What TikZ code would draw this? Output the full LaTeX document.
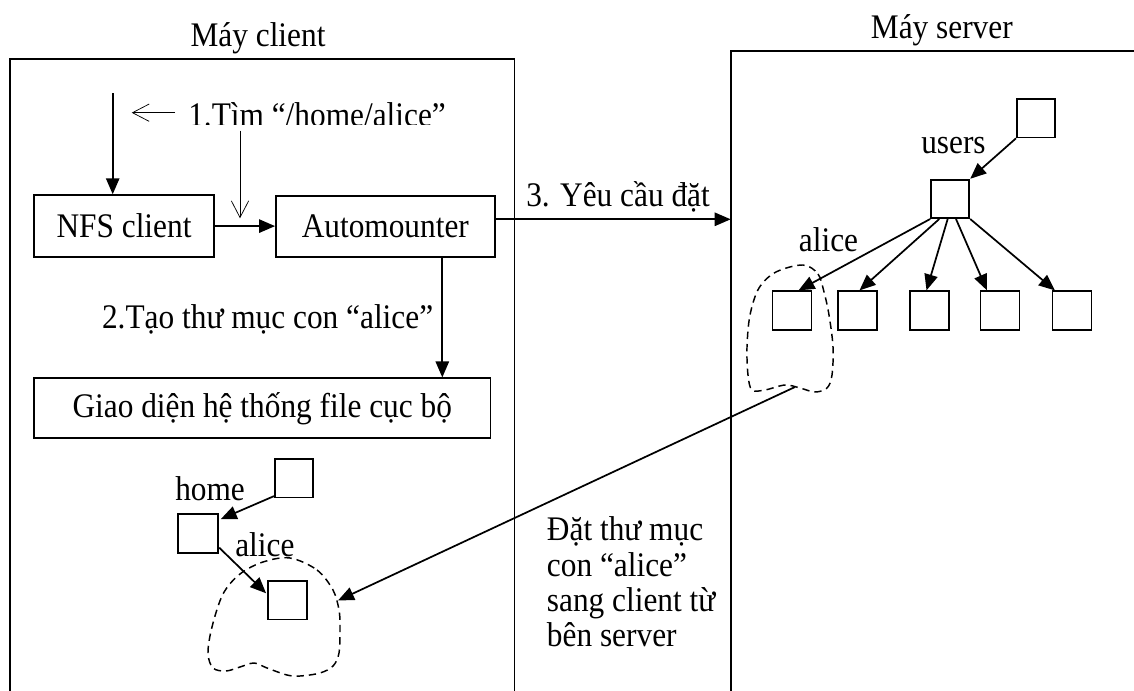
\documentclass[tikz,border=0pt]{standalone}
\usepackage{graphicx}
\usepackage{fontspec}
\setmainfont{Liberation Serif}
\usetikzlibrary{arrows.meta,calc}
% the lettering is set slightly taller than the font's natural proportions
\newcommand\stretchtxt[1]{\scalebox{1}[1.1]{#1}}
\begin{document}
\begin{tikzpicture}[x=0.75pt,y=-0.75pt,
  every node/.style={font=\fontsize{23.5}{26.5}\selectfont},
  box/.style={draw,line width=1.3pt,inner sep=0pt},
  dirbox/.style={draw,line width=1.3pt,inner sep=0pt,minimum width=39*0.75pt,minimum height=38.5*0.75pt},
  lbl/.style={anchor=base west,inner sep=0pt},
  frame/.style={line width=1.3pt},
  arr/.style={line width=1.3pt,-{Triangle[length=12pt,width=10pt]}},
  thinarr/.style={line width=0.55pt,-{Straight Barb[length=12.5pt,width=13pt]}},
  blob/.style={line width=1.1pt,dash pattern=on 5.5pt off 3.75pt}
]
\useasboundingbox (0,0) rectangle (1134,691);

% machine frames (open at the bottom / right)
\draw[frame] (10,700) -- (10,59.3) -- (514.5,59.3) -- (514.5,700);
\draw[frame] (730.7,700) -- (730.7,51) -- (1145,51);
\coordinate (srvL) at (730.7,51);

\node[anchor=base,inner sep=0pt] (tclient) at (258,46.7) {\stretchtxt{Máy client}};
\node[anchor=base,inner sep=0pt] (tserver) at (941.8,38.3) {\stretchtxt{Máy server}};

% client side components
\node[box,minimum width=180*0.75pt,minimum height=61.7*0.75pt] (nfs) at (124,226) {\stretchtxt{NFS client}};
\node[box,minimum width=218.7*0.75pt,minimum height=61*0.75pt] (auto) at (385.3,226.2) {\stretchtxt{Automounter}};
\node[box,minimum width=456.4*0.75pt,minimum height=60*0.75pt] (giao) at (262.2,408.3) {\stretchtxt{Giao diện hệ thống file cục bộ}};

\coordinate (in) at (112.7,93.3);
\draw[arr] (in) -- (in |- nfs.north);
\draw[arr] (nfs) -- (auto);
\coordinate (dn) at (442.3,0);
\draw[arr] (dn |- auto.south) -- (dn |- giao.north);
\coordinate (rq) at (0,219.3);
\draw[arr] (rq -| auto.east) -- (rq -| srvL);

% step 1 hint
\coordinate (t1a) at (175,112.7);
\coordinate (t1b) at (131.7,112.7);
\draw[thinarr] (t1a) -- (t1b);
\coordinate (t2a) at (240,130.7);
\coordinate (t2b) at (240,218.3);
\draw[thinarr] (t2a) -- (t2b);
\begin{scope}
  \clip (180,92) rectangle (470,124.5);
  \node[lbl] (step1) at (188,127) {\stretchtxt{1.Tìm “/home/alice”}};
\end{scope}

\node[lbl] (step2) at (101.8,328.3) {\stretchtxt{2.Tạo thư mục con “alice”}};
\node[lbl] (step3) at (526,206.7) {\stretchtxt{3. Yêu cầu đặt}};

% server directory tree
\node[dirbox,minimum width=38.3*0.75pt] (sroot) at (1036,118.2) {};
\node[dirbox,minimum width=38.3*0.75pt] (users) at (950.2,198.9) {};
\node[dirbox] (s1) at (792,310.5) {};
\node[dirbox] (s2) at (857.7,310.5) {};
\node[dirbox] (s3) at (929.7,310.5) {};
\node[dirbox] (s4) at (1000,310.5) {};
\node[dirbox] (s5) at (1072,310.5) {};
\draw[arr] (sroot.south west) -- (users.north east);
\draw[arr] (users.south west) -- ([xshift=4.9pt]s1.north);
\draw[arr] ([xshift=-8.2pt]users.south) -- ([xshift=1.35pt]s2.north);
\draw[arr] ([xshift=-1.9pt]users.south) -- ([xshift=-2.4pt]s3.north);
\draw[arr] ([xshift=4.35pt]users.south) -- ([xshift=-9.75pt]s4.north);
\draw[arr] (users.south east) -- ([xshift=2.4pt]s5.north west);
\node[lbl] (lusers) at (921,153.3) {\stretchtxt{users}};
\node[lbl] (lsalice) at (798.7,251.7) {\stretchtxt{alice}};
\draw[blob] plot[smooth cycle,tension=0.55] coordinates
  {(803,265) (818,274) (824,292) (829,315) (833,347) (832,375) (827,388)
   (815,392) (800,388) (785,385) (765,390) (752,390) (748,375) (747,347)
   (750,315) (759,288) (776,272)};

% client directory tree
\node[dirbox,minimum width=38.3*0.75pt] (croot) at (294.2,478.2) {};
\node[dirbox,minimum width=40*0.75pt] (home) at (198.3,533.5) {};
\node[dirbox] (calice) at (287.8,600.2) {};
\draw[arr] ([yshift=1.7pt]croot.south west) -- ([xshift=1.2pt,yshift=-4.3pt]home.north east);
\draw[arr] ([yshift=4.5pt]home.south east) -- ([xshift=-1pt,yshift=5.2pt]calice.west);
\node[lbl] (lhome) at (175,500) {\stretchtxt{home}};
\node[lbl] (lcalice) at (235,556.7) {\stretchtxt{alice}};
\draw[blob] plot[smooth cycle,tension=0.55] coordinates
  {(290,558) (317,570) (333,590) (339,610) (340,627) (339,653) (333,666)
   (320,673) (300,676) (287,675) (267,668) (254,663) (240,667) (226,671)
   (213,668) (208,653) (212,627) (223,594) (240,574) (263,562)};

% mounting the server subtree on the client
\coordinate (sb) at (795,387);
\coordinate (cb) at (338,600.5);
\draw[arr] (sb) -- (cb);
\node[lbl,align=left] (mount) at (546.7,646.7)
  {\stretchtxt{Đặt thư mục}\\\stretchtxt{con “alice”}\\\stretchtxt{sang client từ}\\\stretchtxt{bên server}};

\end{tikzpicture}
\end{document}
